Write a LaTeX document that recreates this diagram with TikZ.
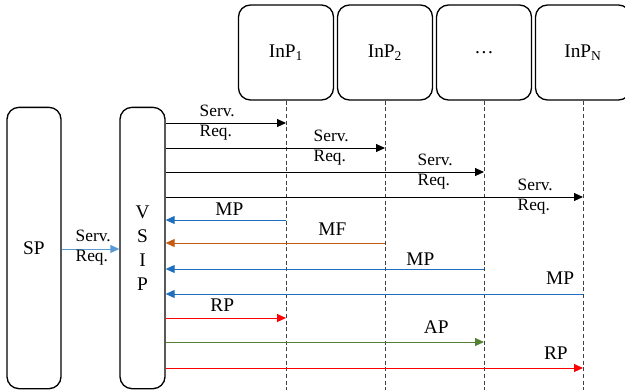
\documentclass[tikz,border=0pt]{standalone}
\usepackage{fontspec}
\setmainfont{Liberation Serif}
\usepackage{tikz}
\usetikzlibrary{arrows.meta}
\definecolor{mpblue}{RGB}{30,110,190}
\definecolor{mforange}{RGB}{197,90,17}
\definecolor{apgreen}{RGB}{84,130,53}
\definecolor{reqblue}{RGB}{91,155,213}

\begin{document}
\begin{tikzpicture}[x=0.75pt,y=-0.75pt,
    box/.style={draw, line width=1pt, rounded corners=9pt, font=\fontsize{14.5}{18}\selectfont},
    msg/.style={line width=0.7pt, -{Triangle[length=6.75pt,width=6pt]}},
    lbl/.style={text=black, font=\fontsize{14.5}{17}\selectfont},
    reqlbl/.style={text=black, font=\fontsize{13}{15}\selectfont, align=left, anchor=west},
    life/.style={densely dashed, line width=0.6pt, black!75}]
    \useasboundingbox (0,0) rectangle (625,390);
    \coordinate (bot) at (0,390);

    % Draw SP and VSIP
    \node[box, minimum width=40.5pt, minimum height=211pt] (sp) at (34,248) {SP};
    \node[box, minimum width=33.75pt, minimum height=211pt, align=center] (vsip) at (142.5,248) {V\\S\\I\\P};

    % Draw the InPs and their lifelines
    \node[box, minimum width=71.25pt, minimum height=71.25pt] (inp1) at (286,52.5) {InP\textsubscript{1}};
    \node[box, minimum width=71.25pt, minimum height=71.25pt] (inp2) at (385,52.5) {InP\textsubscript{2}};
    \node[box, minimum width=71.25pt, minimum height=71.25pt] (inp3) at (484,52.5) {\dots};
    \node[box, minimum width=71.25pt, minimum height=71.25pt] (inp4) at (583,52.5) {InP\textsubscript{N}};
    \foreach \n in {1,2,3,4}
        \draw[life] (inp\n.south) -- (inp\n.south |- bot);

    % Request from SP
    \draw[msg, reqblue] (sp.east |- 0,249) -- (vsip.west |- 0,249);
    \node[reqlbl] (req0) at (71,248) {Serv.\\Req.};

    % Requests to the InPs
    \foreach \n/\y/\x in {1/123/195, 2/148/309, 3/172/413, 4/197/513} {
        \draw[msg] (vsip.east |- 0,\y) -- (inp\n |- 0,\y);
        \node[reqlbl] (req\n) at (\x,\y) {Serv.\\Req.};
    }

    % Replies
    \draw[msg, mpblue] (inp1 |- 0,220) -- node[lbl, above, pos=.47] (mp1) {MP} (vsip.east |- 0,220);
    \draw[msg, mforange] (inp2 |- 0,243) -- node[lbl, above=1.7pt, pos=.24] (mf) {MF} (vsip.east |- 0,243);
    \draw[msg, mpblue] (inp3 |- 0,269) -- node[lbl, above=-1pt, pos=.2] (mp3) {MP} (vsip.east |- 0,269);
    \draw[msg, mpblue] (inp4 |- 0,294) -- node[lbl, above=3.5pt, pos=.055] (mp4) {MP} (vsip.east |- 0,294);

    % Results
    \draw[msg, red] (vsip.east |- 0,318) -- node[lbl, above=1pt, pos=.47] (rp1) {RP} (inp1 |- 0,318);
    \draw[msg, apgreen] (vsip.east |- 0,342) -- node[lbl, above=2.5pt, pos=.85] (ap) {AP} (inp3 |- 0,342);
    \draw[msg, red] (vsip.east |- 0,368) -- node[lbl, above=3pt, pos=.935] (rp2) {RP} (inp4 |- 0,368);
\end{tikzpicture}
\end{document}
